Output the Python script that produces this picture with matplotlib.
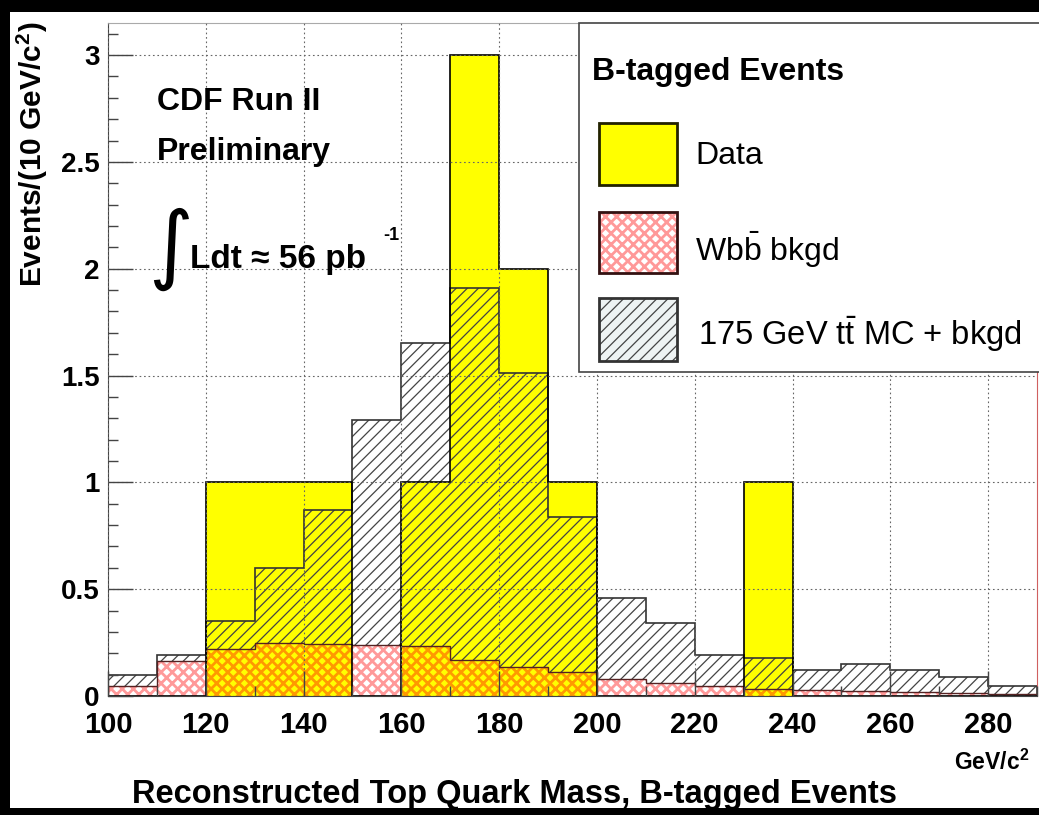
import numpy as np
import matplotlib.pyplot as plt
from matplotlib.patches import Rectangle
from matplotlib.ticker import MultipleLocator, FuncFormatter

# 10 GeV/c^2 bins of reconstructed top mass
edges = np.arange(100, 300, 10)
data_counts = [0, 0, 1, 1, 1, 0, 1, 3, 2, 1, 0, 0, 0, 1, 0, 0, 0, 0, 0]
ttbar_mc = [0.10, 0.19, 0.35, 0.60, 0.87, 1.29, 1.65, 1.91, 1.51, 0.84,
            0.46, 0.34, 0.19, 0.18, 0.12, 0.15, 0.12, 0.09, 0.045]
wbb_bkgd = [0.045, 0.165, 0.22, 0.25, 0.245, 0.24, 0.235, 0.17, 0.135, 0.11,
            0.08, 0.06, 0.045, 0.035, 0.03, 0.025, 0.02, 0.015, 0.01]
x_ticks = [100, 120, 140, 160, 180, 200, 220, 240, 260, 280]
y_ticks = [0, 0.5, 1, 1.5, 2, 2.5, 3]

YELLOW = "#ffff00"
WBB_HATCH = (1.0, 0.0, 0.0, 0.40)
MC_HATCH = "#444444"

plt.rcParams["font.family"] = ["Liberation Sans", "DejaVu Sans"]
plt.rcParams["mathtext.fontset"] = "custom"
plt.rcParams["mathtext.rm"] = "Liberation Sans"
plt.rcParams["mathtext.bf"] = "Liberation Sans:bold"
plt.rcParams["mathtext.it"] = "Liberation Sans:italic"


def hatch_lw(artist, lw):
    if hasattr(artist, "set_hatch_linewidth"):
        artist.set_hatch_linewidth(lw)


fig = plt.figure(figsize=(10.39, 8.15), dpi=100, facecolor="black")
fig.add_artist(Rectangle((10 / 1039, 7 / 815), 1029 / 1039, 796 / 815,
                         transform=fig.transFigure, facecolor="white",
                         edgecolor="none", zorder=-1))
ax = fig.add_axes([108 / 1039, 119 / 815, 929 / 1039, 673 / 815])

# data histogram, then MC hatch above the Wbb part, then Wbb cross-hatch
ax.stairs(data_counts, edges, fill=True, facecolor=YELLOW, linewidth=0, zorder=1)
mc = ax.stairs(ttbar_mc, edges, baseline=wbb_bkgd, fill=True, facecolor="none",
               edgecolor=MC_HATCH, hatch="///", linewidth=0, zorder=1.1)
hatch_lw(mc, 0.9)
wbb = ax.stairs(wbb_bkgd, edges, fill=True, facecolor="none",
                edgecolor=WBB_HATCH, hatch="xxx", linewidth=0, zorder=1.2)
hatch_lw(wbb, 2.0)

ax.stairs(ttbar_mc, edges, color="#333333", linewidth=1.2, zorder=1.5)
ax.stairs(wbb_bkgd, edges, color="#552222", linewidth=1.0, zorder=1.5)
ax.stairs(data_counts, edges, color="black", linewidth=1.2, zorder=1.6)

ax.set_xlim(100, 290)
ax.set_ylim(0, 3.15)
ax.set_xticks(x_ticks)
ax.set_yticks(y_ticks)
ax.yaxis.set_major_formatter(FuncFormatter(lambda v, p: f"{v:g}"))
ax.xaxis.set_minor_locator(MultipleLocator(10))
ax.yaxis.set_minor_locator(MultipleLocator(0.1))
ax.tick_params(which="major", direction="in", length=18, width=1, color="#444444")
ax.tick_params(which="minor", direction="in", length=7, width=1, color="#444444")
ax.tick_params(axis="y", which="major", pad=6)
ax.tick_params(axis="x", which="major", pad=11)
for lab in ax.get_xticklabels():
    lab.set_fontsize(21)
    lab.set_fontweight("bold")
for lab in ax.get_yticklabels():
    lab.set_fontsize(20)
    lab.set_fontweight("bold")

ax.set_axisbelow(False)
ax.grid(True, which="major", color="#666666", linestyle=(0, (1.5, 2.5)), linewidth=0.8)

for side in ("left", "bottom"):
    ax.spines[side].set_color("#444444")
ax.spines["top"].set_color("#aaaaaa")
ax.spines["right"].set_color("#d06060")

ax.set_ylabel(r"Events/(10 GeV/c$^{\mathbf{2}}$)", fontsize=21.5, fontweight="bold", loc="top")
ax.yaxis.set_label_coords(-0.062, 1.002)
ax.set_xlabel("Reconstructed Top Quark Mass, B-tagged Events", fontsize=23.5, fontweight="bold")
ax.xaxis.set_label_coords(0.438, -0.124)
ax.text(0.992, -0.110, r"GeV/c$^{\mathbf{2}}$", transform=ax.transAxes, fontsize=16.5,
        fontweight="bold", ha="right", va="baseline")

# experiment labels
ax.text(0.053, 0.871, "CDF Run II", transform=ax.transAxes, fontsize=23,
        fontweight="bold", va="baseline")
ax.text(0.053, 0.796, "Preliminary", transform=ax.transAxes, fontsize=23,
        fontweight="bold", va="baseline")
ax.text(0.067, 0.663, "\u222b", transform=ax.transAxes, fontsize=62,
        family="DejaVu Sans", ha="center", va="center")
ax.text(0.088, 0.636, "Ldt \u2248 56 pb", transform=ax.transAxes, fontsize=24,
        fontweight="bold", va="baseline")
ax.text(0.296, 0.678, "-1", transform=ax.transAxes, fontsize=13,
        fontweight="bold", va="baseline")

# legend panel
ax.add_patch(Rectangle((0.507, 0.481), 0.51, 0.519, transform=ax.transAxes,
                       facecolor="white", edgecolor="#444444", linewidth=1.2,
                       zorder=5, clip_on=False))
ax.text(0.521, 0.915, "B-tagged Events", transform=ax.transAxes, fontsize=23,
        fontweight="bold", va="baseline", zorder=6)

sw_x, sw_w = 0.5285, 0.084
ax.add_patch(Rectangle((sw_x, 0.759), sw_w, 0.092, transform=ax.transAxes,
                       facecolor=YELLOW, edgecolor="#222200", linewidth=2, zorder=6))
ax.text(0.632, 0.790, "Data", transform=ax.transAxes, fontsize=23,
        va="baseline", zorder=6)

sw = Rectangle((sw_x, 0.629), sw_w, 0.090, transform=ax.transAxes,
               facecolor="white", edgecolor=WBB_HATCH, hatch="xxx", linewidth=0, zorder=6)
hatch_lw(sw, 2.0)
ax.add_patch(sw)
ax.add_patch(Rectangle((sw_x, 0.629), sw_w, 0.090, transform=ax.transAxes,
                       facecolor="none", edgecolor="#331111", linewidth=2, zorder=6.1))
ax.text(0.632, 0.646, r"Wb$\bar{\mathrm{b}}$ bkgd", transform=ax.transAxes, fontsize=23,
        va="baseline", zorder=6)

sw = Rectangle((sw_x, 0.498), sw_w, 0.093, transform=ax.transAxes,
               facecolor="#eef3f3", edgecolor=MC_HATCH, hatch="///", linewidth=0, zorder=6)
hatch_lw(sw, 0.9)
ax.add_patch(sw)
ax.add_patch(Rectangle((sw_x, 0.498), sw_w, 0.093, transform=ax.transAxes,
                       facecolor="none", edgecolor="#333333", linewidth=2, zorder=6.1))
ax.text(0.635, 0.5215, r"175 GeV t$\bar{\mathrm{t}}$ MC + bkgd", transform=ax.transAxes,
        fontsize=23.5, va="baseline", zorder=6)

fig.savefig("out.png", dpi=100, facecolor=fig.get_facecolor())
